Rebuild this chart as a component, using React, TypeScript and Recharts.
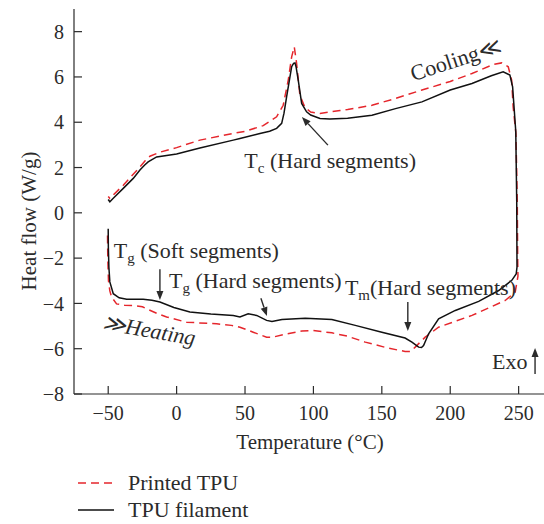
import React from "react";
import {
  LineChart, Line, XAxis, YAxis, ReferenceDot, ReferenceLine,
} from "recharts";

// TPU filament (black): heating from -50 up to 250, then cooling back to -50
const filamentT = [
  -50, -49.9, -49.5, -48.8, -46.3, -42, -36.5, -24.4, -18, -12.2, -2, 9.7, 25, 41.4, 46.3, 52.3,
  58.5, 65.8, 69.7, 77, 94, 113.5, 130.6, 150, 167, 172, 176.9, 179, 180.5, 184.2, 191.5, 203.7,
  220.8, 235.4, 245, 248.2, 248.8, 248.6, 247.9, 245.6, 243.6, 238.7,
  230, 215.9, 200, 179.3, 160, 142.8, 125, 112, 104.8, 98, 95, 91.4, 88.9, 87.3, 86.5, 85.5, 84.1,
  82.3, 80.4, 78.5, 76.8, 73.1, 68, 60.9, 46.3, 41.4, 17, 0, -14.6, -20.8, -23.5, -26.8, -31.7,
  -39, -46.3, -48.8, -50,
];
const filamentHF = [
  -0.7, -1.5, -2.4, -3.05, -3.57, -3.75, -3.82, -3.82, -3.86, -3.94, -4.18, -4.38, -4.47, -4.53,
  -4.6, -4.46, -4.53, -4.75, -4.8, -4.71, -4.65, -4.71, -4.97, -5.27, -5.53, -5.71, -5.93, -5.95,
  -5.86, -5.34, -4.68, -4.31, -3.91, -3.43, -2.98, -2.7, -2.4, 0.5, 3.6, 5.56, 6.08, 6.23,
  6.05, 5.71, 5.42, 4.9, 4.6, 4.31, 4.18, 4.14, 4.17, 4.32, 4.46, 4.83, 5.86, 6.45, 6.62, 6.6, 6.45,
  5.8, 5.12, 4.4, 3.95, 3.73, 3.6, 3.5, 3.28, 3.21, 2.86, 2.6, 2.47, 2.25, 2.1, 1.89, 1.52,
  1.08, 0.64, 0.49, 0.59,
];

// Printed TPU (red dashed)
const printedT = [
  -50.5, -50.3, -49.8, -48.8, -47.5, -43.9, -38, -31.7, -25, -21.9, -14, -7.3, 7.3, 29.2, 40, 46.3,
  56, 65.8, 69.7, 80, 91.6, 100, 113.5, 125, 137.9, 155, 167, 171, 174.4, 181.7, 191.5, 215.9,
  240.2, 247.5, 249.5, 249.3, 249, 248, 246, 244.9, 242.4, 237.6,
  231.5, 215.9, 200, 179.3, 160, 142.8, 125, 119.5, 104.8, 98, 93.8, 90.1, 87.7, 86, 84.1, 81.6,
  77.9, 73.1, 63.3, 50, 41, 17, 0, -12, -19.5, -23, -26.8, -39, -48.8, -50,
];
const printedHF = [
  -1.0, -2.0, -3.0, -3.45, -3.72, -4.02, -4.08, -4.09, -4.15, -4.24, -4.45, -4.6, -4.83, -4.9,
  -4.97, -5.05, -5.27, -5.49, -5.5, -5.35, -5.22, -5.2, -5.3, -5.45, -5.71, -5.98, -6.12, -6.12,
  -5.93, -5.49, -5.05, -4.53, -3.87, -3.5, -2.8, -2.0, 0.5, 3.5, 4.68, 5.86, 6.45, 6.62,
  6.55, 6.15, 5.8, 5.42, 5.05, 4.75, 4.56, 4.52, 4.39, 4.45, 4.65, 5.2, 6.6, 7.33, 6.89, 5.86,
  4.75, 4.24, 3.85, 3.6, 3.5, 3.21, 2.88, 2.68, 2.5, 2.3, 2.03, 1.22, 0.64, 0.72,
];

const xTicks = [-50, 0, 50, 100, 150, 200, 250];
const yTicks = [-8, -6, -4, -2, 0, 2, 4, 6, 8];

const filamentData = filamentT.map((t, i) => ({ t, hf: filamentHF[i] }));
const printedData = printedT.map((t, i) => ({ t, hf: printedHF[i] }));

const FONT = "'Liberation Serif', 'Times New Roman', serif";
const INK = "#2b2b2b";
const RED = "#e5262c";
const TXT = 22;

const minus = (v: number) => String(v).replace("-", "\u2212");

// text label anchored at a data point
const labelShape = (content: React.ReactNode, opts: { rotate?: number; anchor?: string; italic?: boolean } = {}) =>
  (p: any) => (
    <text
      x={p.cx}
      y={p.cy}
      fontFamily={FONT}
      fontSize={TXT}
      fill={INK}
      textAnchor={opts.anchor || "start"}
      fontStyle={opts.italic ? "italic" : "normal"}
      transform={opts.rotate ? `rotate(${opts.rotate} ${p.cx} ${p.cy})` : undefined}
    >
      {content}
    </text>
  );

// line with arrowhead at the second point
const arrowShape = (p: any) => {
  const { x1, y1, x2, y2 } = p;
  const a = Math.atan2(y2 - y1, x2 - x1);
  const len = 9, w = 3.5;
  const bx = x2 - len * Math.cos(a), by = y2 - len * Math.sin(a);
  const px = -Math.sin(a) * w, py = Math.cos(a) * w;
  return (
    <g>
      <line x1={x1} y1={y1} x2={bx} y2={by} stroke={INK} strokeWidth={1.4} />
      <polygon points={`${x2},${y2} ${bx + px},${by + py} ${bx - px},${by - py}`} fill={INK} />
    </g>
  );
};

const sub = (main: string, s: string, rest: string) => (
  <>
    {main}
    <tspan dy={5} fontSize={15}>{s}</tspan>
    <tspan dy={-5}>{rest}</tspan>
  </>
);

export default function App() {
  return (
    <div style={{ position: "absolute", left: 0, top: 0, width: 544, height: 524, overflow: "hidden", background: "#fff" }}>
      <LineChart width={546} height={524} margin={{ top: 9, right: 0, bottom: 70, left: 0 }}>
        <XAxis
          dataKey="t"
          type="number"
          domain={[-75, 270]}
          ticks={xTicks}
          allowDataOverflow
          height={60}
          tickSize={-8}
          tickMargin={20}
          stroke={INK}
          strokeWidth={1.2}
          tick={{ fill: INK, fontSize: 20, fontFamily: FONT }}
          tickFormatter={minus}
          label={{ value: "Temperature (\u00B0C)", position: "insideBottom", offset: 5, fill: INK, fontSize: 21, fontFamily: FONT }}
        />
        <XAxis
          xAxisId="top"
          orientation="top"
          dataKey="t"
          type="number"
          domain={[-75, 270]}
          ticks={xTicks}
          allowDataOverflow
          height={0}
          tickSize={-8}
          stroke={INK}
          strokeWidth={1.2}
          tickFormatter={() => ""}
        />
        <YAxis
          type="number"
          domain={[-8, 9]}
          ticks={yTicks}
          allowDataOverflow
          width={74}
          tickSize={-8}
          tickMargin={18}
          stroke={INK}
          strokeWidth={1.2}
          tick={{ fill: INK, fontSize: 20, fontFamily: FONT }}
          tickFormatter={minus}
          label={{
            content: (props: any) => {
              const vb = props.viewBox || { x: 0, y: 9, width: 74, height: 385 };
              const cx = vb.x + 36;
              const cy = 221;
              return (
                <text x={cx} y={cy} transform={`rotate(-90 ${cx} ${cy})`} textAnchor="middle" fontFamily={FONT} fontSize={21} fill={INK}>
                  Heat flow (W/g)
                </text>
              );
            },
          }}
        />

        <Line data={printedData} dataKey="hf" type="linear" stroke={RED} strokeWidth={1.5} strokeDasharray="8 5" dot={false} isAnimationActive={false} />
        <Line data={filamentData} dataKey="hf" type="linear" stroke="#111" strokeWidth={1.5} dot={false} isAnimationActive={false} />

        {/* annotations */}
        <ReferenceDot x={49.5} y={1.97} r={0} shape={labelShape(sub("T", "c", " (Hard segments)"))} />
        <ReferenceLine segment={[{ x: 110.6, y: 2.99 }, { x: 91.6, y: 4.23 }]} shape={arrowShape} />

        <ReferenceDot x={-46} y={-2.0} r={0} shape={labelShape(sub("T", "g", " (Soft segments)"))} />
        <ReferenceLine segment={[{ x: -12.2, y: -2.49 }, { x: -12.2, y: -3.85 }]} shape={arrowShape} />

        <ReferenceDot x={-5.5} y={-3.32} r={0} shape={labelShape(sub("T", "g", " (Hard segments)"))} />
        <ReferenceLine segment={[{ x: 61.6, y: -3.77 }, { x: 66, y: -4.56 }]} shape={arrowShape} />

        <ReferenceDot x={123} y={-3.63} r={0} shape={labelShape(sub("T", "m", "(Hard segments)"))} />
        <ReferenceLine segment={[{ x: 169, y: -3.94 }, { x: 169, y: -5.22 }]} shape={arrowShape} />

        <ReferenceDot x={230.5} y={-6.9} r={0} shape={labelShape("Exo")} />
        <ReferenceLine segment={[{ x: 262, y: -7.12 }, { x: 262, y: -5.97 }]} shape={arrowShape} />

        <ReferenceDot x={205.6} y={6.45} r={0} shape={labelShape("Cooling\u226A", { rotate: -18, anchor: "middle" })} />
        <ReferenceDot x={-21} y={-5.5} r={0} shape={labelShape("\u226BHeating", { rotate: 10, anchor: "middle", italic: true })} />
      </LineChart>

      {/* legend */}
      <div style={{ position: "absolute", left: 78, top: 469, fontFamily: FONT, fontSize: TXT, color: INK, lineHeight: "27px" }}>
        <div style={{ display: "flex", alignItems: "center" }}>
          <svg width={36} height={10} style={{ marginRight: 14 }}>
            <line x1={0} y1={5} x2={36} y2={5} stroke={RED} strokeWidth={1.5} strokeDasharray="8 5" />
          </svg>
          <span>Printed TPU</span>
        </div>
        <div style={{ display: "flex", alignItems: "center" }}>
          <svg width={36} height={10} style={{ marginRight: 14 }}>
            <line x1={0} y1={5} x2={36} y2={5} stroke="#111" strokeWidth={1.5} />
          </svg>
          <span>TPU filament</span>
        </div>
      </div>
    </div>
  );
}
